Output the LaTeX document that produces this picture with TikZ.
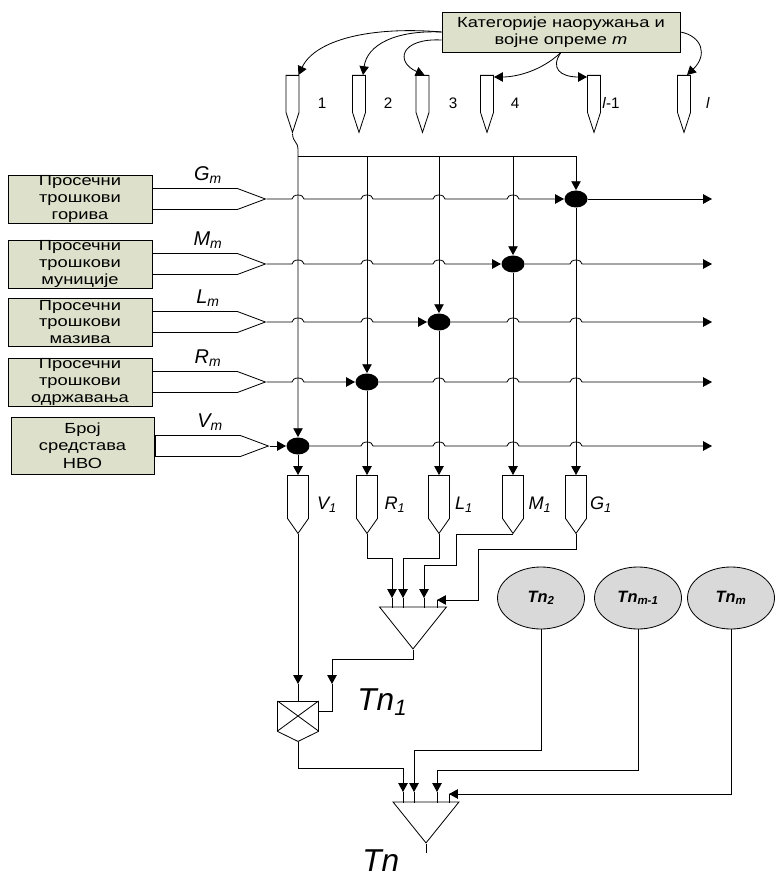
\documentclass[tikz,border=0pt]{standalone}
\usepackage{fontspec}
\setmainfont{Liberation Sans}
\newfontfamily\boxfont{Liberation Sans}[FakeStretch=1.25]
\usetikzlibrary{arrows.meta,shapes.symbols,shapes.geometric}

\definecolor{boxgreen}{HTML}{DDE0CA}
\definecolor{ovalgray}{HTML}{D9D9D9}
\def\pxu{0.03cm}

\tikzset{
  feed/.style={-{Triangle[length=7.5pt,width=8pt]}},
  costbox/.style={draw, fill=boxgreen, minimum width=144*\pxu, minimum height=48*\pxu,
    inner sep=0pt, align=center, font=\boxfont\fontsize{12.5}{14.2}\selectfont},
  funnel/.style={draw, signal, signal to=east, signal from=nowhere, signal pointer angle=41,
    minimum width=113*\pxu, minimum height=21*\pxu, inner sep=0pt},
  tagin/.style={draw, fill=white, signal, signal to=south, signal from=nowhere,
    signal pointer angle=36, minimum width=13*\pxu, minimum height=37*\pxu, inner sep=0pt},
  tagout/.style={draw, fill=white, signal, signal to=south, signal from=nowhere,
    signal pointer angle=70, minimum width=21*\pxu, minimum height=43*\pxu, inner sep=0pt},
  mulbox/.style={draw, fill=white, signal, signal to=south, signal from=nowhere,
    signal pointer angle=128, minimum width=41*\pxu, minimum height=30*\pxu, inner sep=0pt},
  knot/.style={ellipse, fill=black, minimum width=23*\pxu, minimum height=17*\pxu, inner sep=0pt},
  sumtri/.style={draw, isosceles triangle, isosceles triangle stretches,
    shape border rotate=-90, inner sep=0pt},
  tnoval/.style={draw, ellipse, fill=ovalgray, minimum width=87*\pxu, minimum height=62*\pxu,
    inner sep=0pt, font=\bfseries\itshape\fontsize{14}{14}\selectfont},
  rowlab/.style={font=\itshape\fontsize{17}{17}\selectfont, inner sep=0pt},
  collab/.style={font=\itshape\fontsize{15.5}{15.5}\selectfont, inner sep=0pt},
  numlab/.style={font=\fontsize{13}{13}\selectfont, inner sep=0pt},
  biglab/.style={font=\itshape\fontsize{27}{27}\selectfont, inner sep=0pt},
}

\begin{document}
\begin{tikzpicture}[x=\pxu, y=-\pxu, line width=0.7pt]
    \useasboundingbox (0,0) rectangle (774,881);

    % category box and the top tags
    \node[costbox, minimum width=238*\pxu, minimum height=40*\pxu] (cat) at (561,32)
        {Категорије наоружања и\\војне опреме \textit{m}};
    \foreach \n/\x/\txt/\lx in {1/292.5/1/322, 2/359/2/388, 3/422.5/3/453,
        4/487/4/515, 5/594/{\textit{l}-1}/611, 6/684/\textit{l}/708} {
        \node[tagin, anchor=north] (p\n) at (\x,75) {};
        \node[numlab] (n\n) at (\lx,103) {\txt};
    }

    % curved arrows from the category box
    \draw[feed] (cat.west) .. controls (370,26) and (315,40) .. ([xshift=6*\pxu]p1.north);
    \draw[feed] (cat.west) .. controls (395,30) and (367,45) .. ([xshift=4*\pxu]p2.north);
    \draw[feed] ([yshift=-8*\pxu]cat.west) .. controls (400,38) and (395,62) .. ([xshift=2*\pxu]p3.north);
    \draw[feed] (cat.south) .. controls (540,72) and (515,77) .. ([xshift=7*\pxu,yshift=-2*\pxu]p4.north);
    \draw[feed] (cat.south) .. controls (550,68) and (560,77) .. ([xshift=-7*\pxu,yshift=-2*\pxu]p5.north);
    \draw[feed] (cat.east) .. controls (702,36) and (708,55) .. ([xshift=3*\pxu]p6.north);

    % input boxes with their funnels
    \foreach \r/\y/\txt in {G/199/{Просечни\\трошкови\\горива},
        M/264/{Просечни\\трошкови\\муниције},
        L/322/{Просечни\\трошкови\\мазива},
        R/382/{Просечни\\трошкови\\одржавања}} {
        \node[funnel, anchor=west] (f\r) at (152,\y) {};
        \node[costbox] (bx\r) at (80,\y) {\txt};
        \node[rowlab] (l\r) at (208,\y-24) {\r\textsubscript{m}};
    }
    \node[funnel, anchor=west] (fV) at (155,446) {};
    \node[costbox, minimum width=143*\pxu, minimum height=57*\pxu, font=\boxfont\fontsize{12.5}{15}\selectfont]
        (bxV) at (82.5,445.5) {Број\\средстава\\НВО};
    \node[rowlab] (lV) at (210,422) {V\textsubscript{m}};

    % bus and free ends
    \coordinate (bV) at (298,156);
    \coordinate (bR) at (367,156);
    \coordinate (bL) at (439,156);
    \coordinate (bM) at (513,156);
    \coordinate (bG) at (576,156);
    \foreach \r/\y in {G/199, M/264, L/322, R/382, V/446}
        \coordinate (e\r) at (712,\y);

    % rows with hops
    \draw[feed] (fG.east) foreach \c in {298,367,439,513}
        { -- (\c-6,199) arc[start angle=180, end angle=0, x radius=6*\pxu, y radius=4*\pxu] } -- (576-12,199);
    \draw[feed] (576+12,199) -- (eG);
    \draw[feed] (fM.east) foreach \c in {298,367,439}
        { -- (\c-6,264) arc[start angle=180, end angle=0, x radius=6*\pxu, y radius=4*\pxu] } -- (513-12,264);
    \draw[feed] (513+12,264) foreach \c in {576}
        { -- (\c-6,264) arc[start angle=180, end angle=0, x radius=6*\pxu, y radius=4*\pxu] } -- (eM);
    \draw[feed] (fL.east) foreach \c in {298,367}
        { -- (\c-6,322) arc[start angle=180, end angle=0, x radius=6*\pxu, y radius=4*\pxu] } -- (439-12,322);
    \draw[feed] (439+12,322) foreach \c in {513,576}
        { -- (\c-6,322) arc[start angle=180, end angle=0, x radius=6*\pxu, y radius=4*\pxu] } -- (eL);
    \draw[feed] (fR.east) foreach \c in {298}
        { -- (\c-6,382) arc[start angle=180, end angle=0, x radius=6*\pxu, y radius=4*\pxu] } -- (367-12,382);
    \draw[feed] (367+12,382) foreach \c in {439,513,576}
        { -- (\c-6,382) arc[start angle=180, end angle=0, x radius=6*\pxu, y radius=4*\pxu] } -- (eR);
    \draw[feed] (fV.east) -- (298-12,446);
    \draw[feed] (298+12,446) foreach \c in {367,439,513,576}
        { -- (\c-6,446) arc[start angle=180, end angle=0, x radius=6*\pxu, y radius=4*\pxu] } -- (eV);

    % junction dots
    \node[knot] (dG) at (576,199) {};
    \node[knot] (dM) at (513,264) {};
    \node[knot] (dL) at (439,322) {};
    \node[knot] (dR) at (367,382) {};
    \node[knot] (dV) at (298,446) {};

    % columns
    \draw[feed] (p1.south) .. controls (293,143) and (298,141) .. (298,150) -- (dV.north);
    \draw (bV) -- (bG);
    \foreach \r in {R,L,M,G}
        \draw[feed] (b\r) -- (d\r.north);

    % output tags
    \foreach \r/\x/\lx in {V/298/327, R/367/395, L/439/464, M/513/540, G/576/601} {
        \node[tagout, anchor=north] (o\r) at (\x,475) {};
        \node[collab] (c\r) at (\lx,505) {\r\textsubscript{1}};
        \draw[feed] (d\r.south) -- (o\r.north);
    }

    % first sum
    \node[sumtri, minimum width=67*\pxu, minimum height=42*\pxu, anchor=apex] (s1) at (413,650) {};
    \foreach \k/\x in {a/392, b/403, c/424} {
        \coordinate (s1\k) at (\x,598);
        \draw (s1\k) -- (\x,608);
    }
    \coordinate (s1d) at (437,600);
    \draw (s1d) -- (437,608);
    \draw[feed] (oR.south) |- (392,558) -- (s1a);
    \draw[feed] (oL.south) |- (403,558) -- (s1b);
    \draw[feed] (oM.south) -| (456,565) -| (s1c);
    \draw[feed] (oG.south) |- (478,549) |- (s1d);

    % multiplier
    \node[mulbox, anchor=north] (mul) at (298,701) {};
    \draw (mul.north) ++(-20.5,0) -- ++(41,30) ++(0,-30) -- ++(-41,30);
    \coordinate (m1) at (298,684);
    \coordinate (m2) at (332,684);
    \draw (m1) -- (mul.north);
    \draw (m2) -- ++(0,27) -- ++(-13.5,0);
    \draw[feed] (oV.south) -- (m1);
    \draw[feed] (s1.apex) -- ++(0,9) -| (m2);
    \node[biglab, anchor=base west] (tn1) at (357,710) {Tn\textsubscript{1}};

    % other costs
    \node[tnoval] (t2) at (541,598) {Tn\textsubscript{2}};
    \node[tnoval] (tm1) at (638,598) {Tn\textsubscript{m-1}};
    \node[tnoval] (tm) at (731,598) {Tn\textsubscript{m}};

    % final sum
    \node[sumtri, minimum width=66*\pxu, minimum height=41*\pxu, anchor=apex] (s2) at (426,844) {};
    \draw (s2.apex) -- ++(0,9);
    \foreach \k/\x in {a/403, b/414, c/437} {
        \coordinate (s2\k) at (\x,792);
        \draw (s2\k) -- (\x,803);
    }
    \coordinate (s2d) at (449,794);
    \draw (s2d) -- (449,803);
    \draw[feed] (mul.south) |- (403,768) -- (s2a);
    \draw[feed] (t2.south) |- (414,750) -- (s2b);
    \draw[feed] (tm1.south) |- (437,770) -- (s2c);
    \draw[feed] (tm.south) |- (s2d);
    \node[biglab, anchor=base west] (tn) at (362,871) {Tn};
\end{tikzpicture}
\end{document}
